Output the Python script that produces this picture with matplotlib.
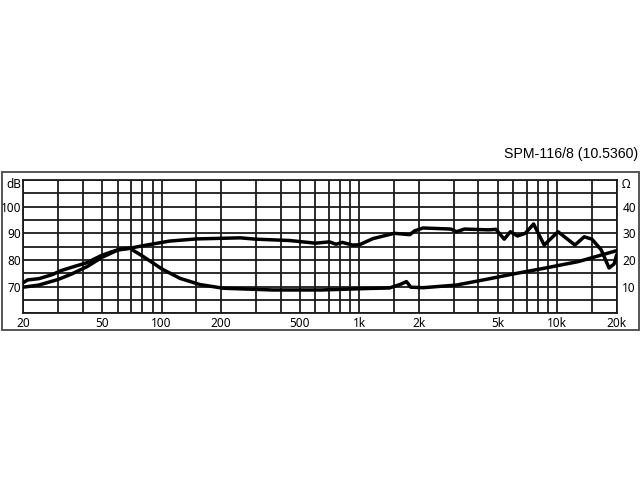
import matplotlib.pyplot as plt
from matplotlib.patches import Rectangle
import matplotlib.transforms as mtransforms

# SPL response (dB)
spl_freq = [20, 21, 24, 28, 31, 36, 42, 50, 61, 69, 84, 110, 150, 250, 300, 445,
            600, 706, 762, 820, 925, 1000, 1170, 1500, 1800, 1900, 2100, 2900,
            3100, 3400, 4500, 4900, 5400, 5800, 6300, 6900, 7600, 8600, 10100,
            12300, 13700, 15000, 16700, 18300, 19400, 20000]
spl_db = [71.5, 72.5, 73.0, 74.5, 76.0, 77.5, 79.0, 81.8, 84.0, 84.4, 85.6, 87.1,
          87.9, 88.3, 87.8, 87.3, 86.3, 86.8, 85.9, 86.6, 85.6, 85.7, 88.0, 90.0,
          89.5, 90.9, 92.0, 91.6, 90.6, 91.6, 91.3, 91.5, 87.8, 90.6, 89.0, 90.0,
          93.5, 85.6, 90.6, 85.6, 88.7, 87.8, 83.8, 77.0, 78.5, 82.0]

# impedance (ohm)
imp_freq = [20, 24, 30, 35, 42, 50, 60, 69, 80, 90, 100, 124, 156, 205, 365, 640,
            1100, 1420, 1630, 1730, 1820, 2100, 3100, 4500, 6000, 8600, 12800, 20000]
imp_ohm = [9.8, 10.6, 12.7, 14.7, 17.5, 21.0, 23.7, 24.4, 21.5, 19.0, 16.7, 13.1,
           10.8, 9.4, 8.75, 8.75, 9.3, 9.5, 11.0, 11.9, 9.8, 9.6, 10.6, 12.9,
           14.75, 16.9, 19.4, 23.5]

grid_freqs = [20, 30, 40, 50, 60, 70, 80, 90, 100, 150, 200, 300, 400, 500, 600,
              700, 800, 900, 1000, 1500, 2000, 3000, 4000, 5000, 6000, 7000, 8000,
              9000, 10000, 15000, 20000]
grid_db = [60, 65, 70, 75, 80, 85, 90, 95, 100, 105, 110]

x_ticks = [20, 50, 100, 200, 500, 1000, 2000, 5000, 10000, 20000]
x_labels = ["20", "50", "100", "200", "500", "1k", "2k", "5k", "10k", "20k"]
db_ticks = [70, 80, 90, 100]
ohm_ticks = [10, 20, 30, 40]

title = "SPM-116/8 (10.5360)"

plt.rcParams["font.family"] = ["Noto Sans", "DejaVu Sans"]

W, H = 640, 480
fig = plt.figure(figsize=(6.4, 4.8), dpi=100)

# outer frame
fig.patches.append(Rectangle((1.5 / W, 1 - 330 / H), 637 / W, (330 - 171.5) / H,
                             transform=fig.transFigure, fill=False,
                             edgecolor="#555555", linewidth=1.4))

ax = fig.add_axes([23.3 / W, 1 - 313.3 / H, (616.7 - 23.3) / W, (313.3 - 180) / H])
ax.set_xscale("log")
ax.set_xlim(20, 20000)
ax.set_ylim(60, 110)

grid_kw = dict(color="#1a1a1a", linewidth=1.3, zorder=1)
for f in grid_freqs:
    ax.axvline(f, **grid_kw)
for d in grid_db:
    ax.axhline(d, **grid_kw)
for s in ax.spines.values():
    s.set_linewidth(1.3)
    s.set_color("#1a1a1a")

ax.plot(spl_freq, spl_db, color="black", linewidth=2.5, zorder=3,
        solid_joinstyle="round", solid_capstyle="round")

ax.set_xticks(x_ticks, labels=x_labels)
ax.xaxis.set_minor_locator(plt.NullLocator())
ax.set_yticks(db_ticks)
ax.tick_params(length=0, labelsize=8.5, pad=2.5)
ax.tick_params(axis="y", pad=1.5)

ax2 = ax.twinx()
ax2.set_ylim(0, 50)
ax2.set_yticks(ohm_ticks)
ax2.tick_params(length=0, labelsize=8.5, pad=4)
for s in ax2.spines.values():
    s.set_visible(False)
ax2.plot(imp_freq, imp_ohm, color="black", linewidth=2.5, zorder=3,
         solid_joinstyle="round", solid_capstyle="round")

trans = mtransforms.blended_transform_factory(ax.transAxes, ax.transData)
ax.text(-0.004, 108.3, "dB", transform=trans, ha="right", va="center", fontsize=8.5)
ax.text(1.008, 108.3, "Ω", transform=trans, ha="left", va="center", fontsize=8.5)

fig.text(638 / W, 1 - 154 / H, title, ha="right", va="center",
         fontsize=10.2, family="Liberation Sans")

fig.savefig("out.png", dpi=100)
